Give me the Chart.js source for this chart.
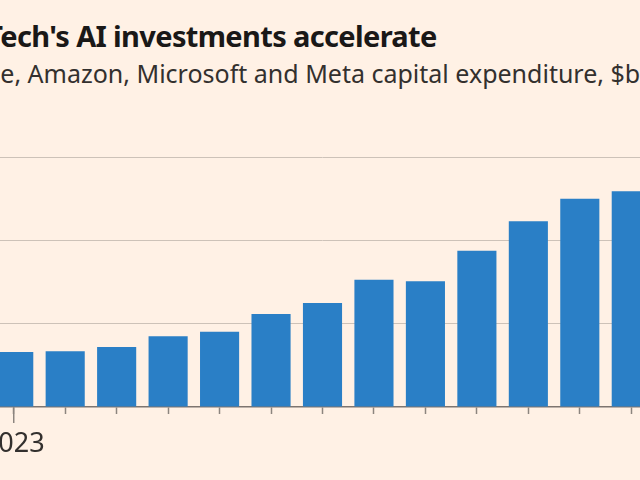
<!DOCTYPE html>
<html lang="en">
<head>
<meta charset="UTF-8">
<script src="https://cdn.jsdelivr.net/npm/chart.js"></script>
<title>Big Tech capex</title>
<style>
    body {
        margin: 0;
        width: 640px;
        height: 480px;
        overflow: hidden;
        position: relative;
        background: #fff1e5;
        font-family: "Noto Sans", sans-serif;
    }
    #title {
        position: absolute;
        top: 21px;
        white-space: nowrap;
        font-size: 29px;
        font-weight: 700;
        letter-spacing: -0.65px;
        line-height: 1;
        color: #1a1817;
    }
    #subtitle {
        position: absolute;
        top: 61px;
        white-space: nowrap;
        font-size: 25px;
        line-height: 1;
        color: #33302e;
    }
    .chart-box {
        position: absolute;
        left: -12px;
        top: 152px;
        width: 669px;
        height: 315px;
    }
</style>
</head>
<body>
<div id="title"><span id="titleCut">Big T</span>ech's AI investments accelerate</div>
<div id="subtitle"><span id="subtitleCut">Googl</span>e, Amazon, Microsoft and Meta capital expenditure, $bn</div>
<div class="chart-box">
    <canvas id="capexChart"></canvas>
</div>

<script>
// quarterly combined capex, $bn
const quarters = ['Q1 2023', 'Q2 2023', 'Q3 2023', 'Q4 2023',
                  'Q1 2024', 'Q2 2024', 'Q3 2024', 'Q4 2024',
                  'Q1 2025', 'Q2 2025', 'Q3 2025', 'Q4 2025', 'Q1 2026'];
const capex = [33, 33.4, 36, 42.4, 45.2, 55.8, 62.4, 76.4, 75.4, 93.8, 111.4, 125, 129.4];
const yearLabels = ['2023', '', '', '', '', '', '', '', '', '', '', '', ''];
const yMax = 150;
const yStep = 50;

// the reference is a crop, so the headline starts part way into a word
function cropLeft(boxId, cutId) {
    const cut = document.getElementById(cutId);
    document.getElementById(boxId).style.left = (-cut.offsetWidth) + 'px';
}
cropLeft('title', 'titleCut');
cropLeft('subtitle', 'subtitleCut');

// longer tick under each year label
const yearTicks = {
    id: 'yearTicks',
    afterDraw(chart) {
        const x = chart.scales.x;
        const ctx = chart.ctx;
        ctx.save();
        ctx.strokeStyle = '#8c857f';
        ctx.lineWidth = 1.5;
        yearLabels.forEach((lab, i) => {
            if (!lab) return;
            const px = x.getPixelForTick(i);
            ctx.beginPath();
            ctx.moveTo(px, x.top);
            ctx.lineTo(px, x.top + 16);
            ctx.stroke();
        });
        ctx.restore();
    }
};

const ctx = document.getElementById('capexChart').getContext('2d');
const chart = new Chart(ctx, {
    type: 'bar',
    data: {
        labels: quarters,
        datasets: [{
            label: 'Capital expenditure ($bn)',
            data: capex,
            backgroundColor: '#2a7fc6',
            borderWidth: 0,
            categoryPercentage: 1,
            barPercentage: 0.76
        }]
    },
    options: {
        responsive: true,
        maintainAspectRatio: false,
        animation: false,
        layout: { padding: { top: 5, left: 0, right: 0, bottom: 0 } },
        plugins: {
            legend: { display: false },
            tooltip: { enabled: false }
        },
        scales: {
            x: {
                grid: {
                    offset: false,
                    drawOnChartArea: false,
                    drawTicks: true,
                    tickLength: 7,
                    tickColor: '#8c857f',
                    tickWidth: 1.5
                },
                border: { display: true, color: '#7d7570', width: 1.5 },
                ticks: {
                    autoSkip: false,
                    maxRotation: 0,
                    padding: 14,
                    color: '#33302e',
                    font: { family: 'Noto Sans', size: 27 },
                    callback: (value, index) => yearLabels[index]
                },
                afterFit(scale) {
                    scale.height = 60;
                    scale.paddingLeft = 0;
                    scale.paddingRight = 0;
                }
            },
            y: {
                min: 0,
                max: yMax,
                ticks: { display: false, stepSize: yStep },
                border: { display: false },
                grid: {
                    drawTicks: false,
                    lineWidth: 1,
                    color: c => c.tick.value === 0 ? 'rgba(0,0,0,0)' : '#cdc2b8'
                }
            }
        }
    },
    plugins: [yearTicks]
});
</script>
</body>
</html>
